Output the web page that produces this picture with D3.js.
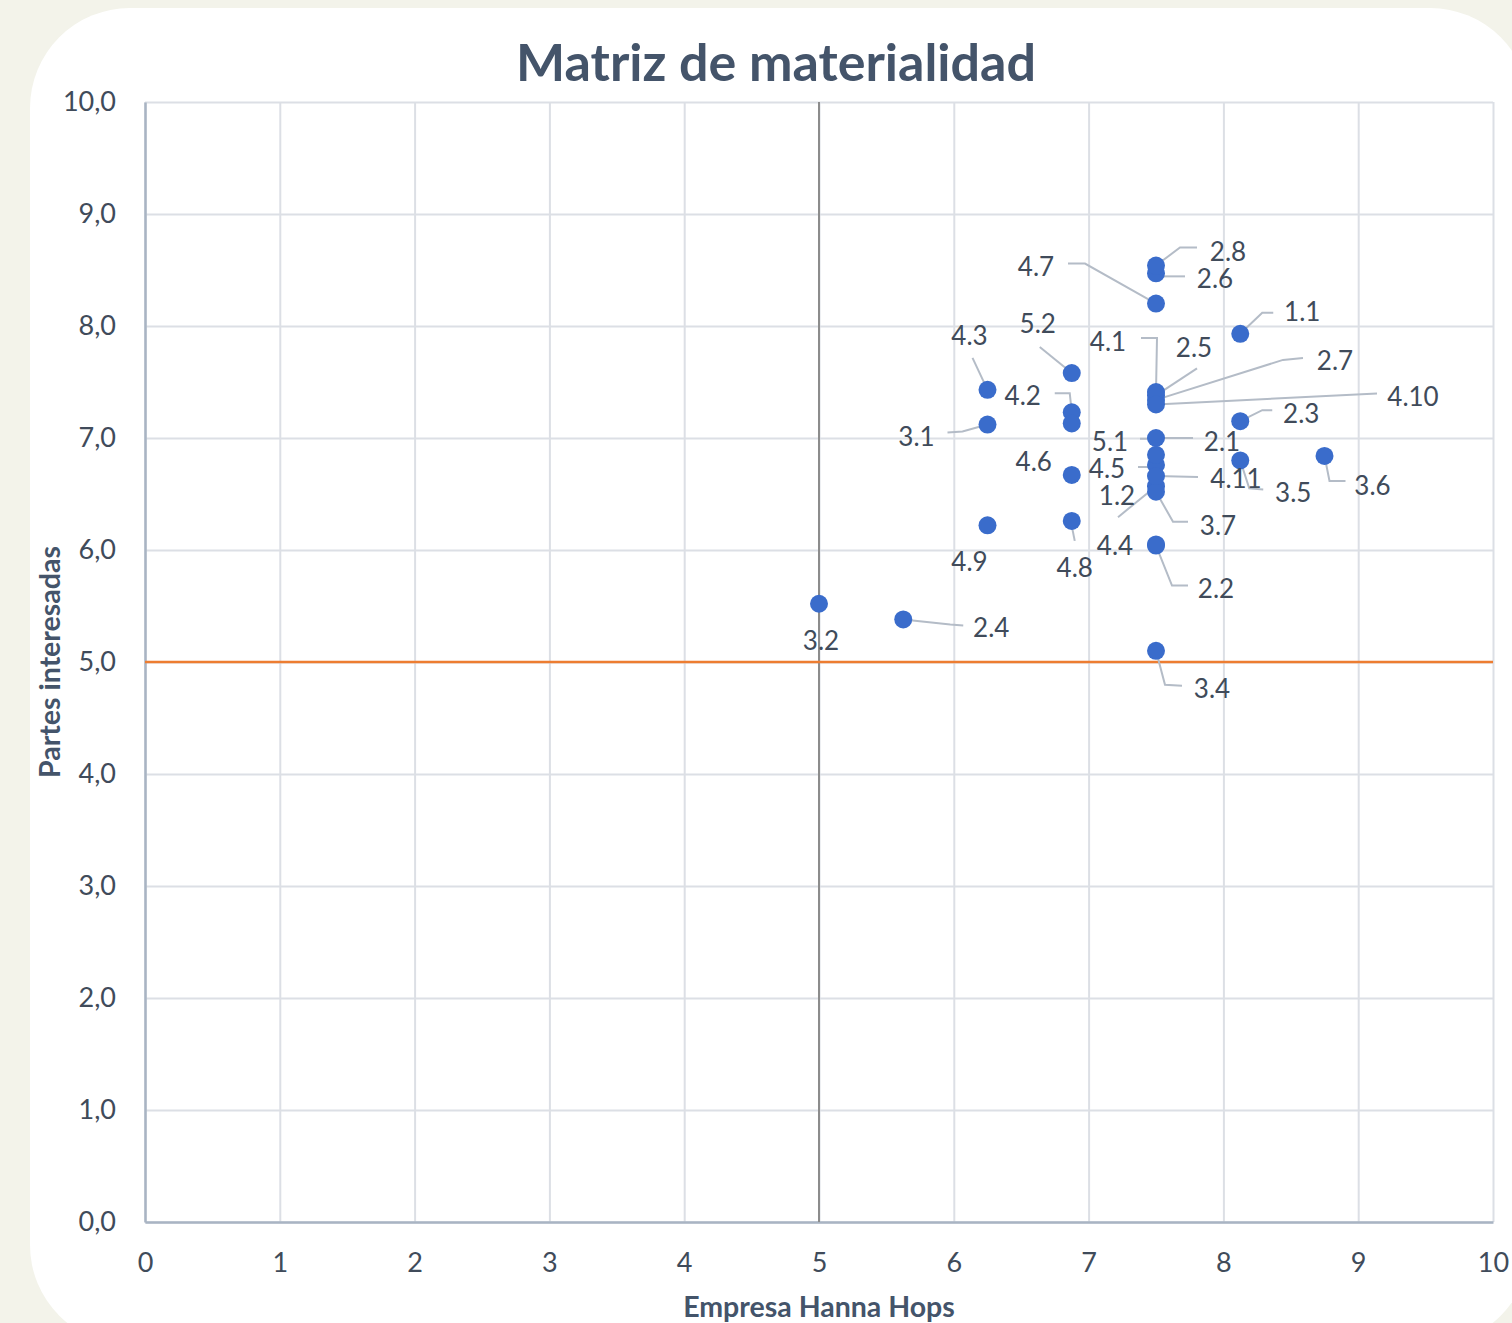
<!DOCTYPE html>
<html>
<head>
<meta charset="utf-8">
<script src="https://cdn.jsdelivr.net/npm/d3@7"></script>
<style>
  html, body { margin: 0; padding: 0; background: #f3f3ea; }
  svg { display: block; }
</style>
</head>
<body>
<svg id="chart" width="1512" height="1323"></svg>
<script>
// ---------- data ----------
const pointLabels = ["1.1","1.2","2.1","2.2","2.3","2.4","2.5","2.6","2.7","2.8",
  "3.1","3.2","3.4","3.5","3.6","3.7","4.1","4.2","4.3","4.4",
  "4.5","4.6","4.7","4.8","4.9","4.10","4.11","5.1","5.2",""];
const empresaValues = [8.125,7.5,7.5,7.5,8.125,5.625,7.5,7.5,7.5,7.5,
  6.25,5.0,7.5,8.125,8.75,7.5,7.5,6.875,6.25,7.5,
  7.5,6.875,7.5,6.875,6.25,7.5,7.5,7.5,6.875,6.875];
const partesValues = [7.93,6.57,7.00,6.04,7.15,5.38,7.38,8.47,7.34,8.54,
  7.12,5.52,5.10,6.80,6.84,6.52,7.41,7.23,7.43,6.05,
  6.76,6.67,8.20,6.26,6.22,7.30,6.66,6.85,7.58,7.13];
const xTicks = [0,1,2,3,4,5,6,7,8,9,10];
const yTicks = [0,1,2,3,4,5,6,7,8,9,10];
const thresholdX = 5;
const thresholdY = 5;
const chartTitle = "Matriz de materialidad";
const xTitle = "Empresa Hanna Hops";
const yTitle = "Partes interesadas";

// ---------- label layout (pixel offsets from point: label centre, leader polyline) ----------
const labelLayout = {
  "1.1": {dx:62, dy:-23, leader:[[0,0],[22,-21],[33,-21]]},
  "1.2": {dx:-39, dy:9, leader:[[0,0],[-38,31]]},
  "2.1": {dx:66, dy:3, leader:[[0,0],[37,0]]},
  "2.2": {dx:60, dy:42, leader:[[0,0],[16,40],[32,40]]},
  "2.3": {dx:61, dy:-8, leader:[[0,0],[22,-11],[32,-11]]},
  "2.4": {dx:88, dy:8, leader:[[0,0],[47,5],[60,6]]},
  "2.5": {dx:38, dy:-48, leader:[[0,0],[41,-27]]},
  "2.6": {dx:59, dy:5, leader:[[0,3],[29,3]]},
  "2.7": {dx:179, dy:-40, leader:[[0,0],[127,-40],[147,-42]]},
  "2.8": {dx:72, dy:-15, leader:[[0,0],[24,-18],[41,-18]]},
  "3.1": {dx:-71, dy:11, leader:[[0,0],[-25,7],[-40,8]]},
  "3.2": {dx:2, dy:36, leader:null},
  "3.4": {dx:56, dy:37, leader:[[0,0],[9,34],[26,35]]},
  "3.5": {dx:53, dy:32, leader:[[0,0],[9,28],[23,29]]},
  "3.6": {dx:48, dy:29, leader:[[0,0],[5,25],[21,25]]},
  "3.7": {dx:62, dy:33, leader:[[0,0],[17,30],[32,30]]},
  "4.1": {dx:-48, dy:-51, leader:[[0,0],[1,-54],[-15,-54]]},
  "4.2": {dx:-49, dy:-17, leader:[[0,0],[-2,-19],[-17,-19]]},
  "4.3": {dx:-18, dy:-55, leader:[[0,0],[-15,-32]]},
  "4.4": {dx:-41, dy:1, leader:null},
  "4.5": {dx:-49, dy:3, leader:[[0,0],[-6,2],[-18,2]]},
  "4.6": {dx:-38, dy:-14, leader:null},
  "4.7": {dx:-120, dy:-38, leader:[[0,0],[-71,-40],[-88,-40]]},
  "4.8": {dx:3, dy:46, leader:[[0,5],[3,20]]},
  "4.9": {dx:-18, dy:36, leader:null},
  "4.10": {dx:257, dy:-8, leader:[[0,0],[221,-11]]},
  "4.11": {dx:80, dy:2, leader:[[0,0],[42,1]]},
  "5.1": {dx:-46, dy:-14, leader:[[0,0],[0,-16],[-16,-16]]},
  "5.2": {dx:-34, dy:-50, leader:[[0,0],[-32,-26]]}
};

// ---------- drawing ----------
const svg = d3.select("#chart");
const FONT = "Lato, 'Open Sans', sans-serif";
const textColor = "#404b5a";
const titleColor = "#44546a";

// card
svg.append("rect").attr("x", 30).attr("y", 8).attr("width", 1500).attr("height", 1337)
  .attr("rx", 100).attr("ry", 100).attr("fill", "#ffffff");

const plot = {left:145, right:1493, top:102, bottom:1222};
const x = d3.scaleLinear().domain([0, 10]).range([plot.left, plot.right]);
const y = d3.scaleLinear().domain([0, 10]).range([plot.bottom, plot.top]);

// title
svg.append("text").attr("x", 776).attr("y", 81).attr("text-anchor", "middle")
  .attr("font-family", FONT).attr("font-weight", 700).attr("font-size", 52)
  .attr("fill", titleColor).text(chartTitle);

// gridlines
const gx = svg.append("g").attr("transform", `translate(0,${plot.bottom})`)
  .call(d3.axisBottom(x).tickValues(xTicks).tickSize(-(plot.bottom - plot.top)).tickFormat(""));
gx.select(".domain").remove();
gx.selectAll("line").attr("stroke", "#dcdfe5").attr("stroke-width", 2);
const gy = svg.append("g").attr("transform", `translate(${plot.left},0)`)
  .call(d3.axisLeft(y).tickValues(yTicks).tickSize(-(plot.right - plot.left)).tickFormat(""));
gy.select(".domain").remove();
gy.selectAll("line").attr("stroke", "#dcdfe5").attr("stroke-width", 2);

// axes
const commaFmt = d => d3.format(".1f")(d).replace(".", ",");
const ax = svg.append("g").attr("transform", `translate(0,${plot.bottom})`)
  .call(d3.axisBottom(x).tickValues(xTicks).tickSize(0).tickPadding(31).tickFormat(d3.format("d")));
ax.select(".domain").attr("stroke", "#a9b4c3").attr("stroke-width", 2.5);
ax.selectAll("text").attr("font-family", FONT).attr("font-size", 27).attr("fill", textColor);

const ay = svg.append("g").attr("transform", `translate(${plot.left},0)`)
  .call(d3.axisLeft(y).tickValues(yTicks).tickSize(0).tickPadding(29).tickFormat(commaFmt));
ay.select(".domain").attr("stroke", "#a9b4c3").attr("stroke-width", 2.5);
ay.selectAll("text").attr("font-family", FONT).attr("font-size", 27).attr("fill", textColor);

// threshold lines
svg.append("line").attr("x1", x(thresholdX)).attr("x2", x(thresholdX))
  .attr("y1", y(10)).attr("y2", y(0)).attr("stroke", "#8c8c8c").attr("stroke-width", 2);
svg.append("line").attr("x1", x(0)).attr("x2", x(10))
  .attr("y1", y(thresholdY)).attr("y2", y(thresholdY)).attr("stroke", "#ed7d31").attr("stroke-width", 2.5);

// axis titles
svg.append("text").attr("x", 819).attr("y", 1317).attr("text-anchor", "middle")
  .attr("font-family", FONT).attr("font-weight", 700).attr("font-size", 28.5)
  .attr("fill", titleColor).text(xTitle);
svg.append("text").attr("transform", "translate(60,662) rotate(-90)").attr("text-anchor", "middle")
  .attr("font-family", FONT).attr("font-weight", 700).attr("font-size", 28.5)
  .attr("fill", titleColor).text(yTitle);

// data
const pts = pointLabels.map((lab, i) => ({lab, px: x(empresaValues[i]), py: y(partesValues[i])}));

// leaders
const lineGen = d3.line();
svg.append("g").selectAll("path")
  .data(pts.filter(d => labelLayout[d.lab] && labelLayout[d.lab].leader))
  .join("path")
  .attr("d", d => lineGen(labelLayout[d.lab].leader.map(p => [d.px + p[0], d.py + p[1]])))
  .attr("fill", "none").attr("stroke", "#b4bcc7").attr("stroke-width", 2);

// dots
svg.append("g").selectAll("circle").data(pts).join("circle")
  .attr("cx", d => d.px).attr("cy", d => d.py).attr("r", 9)
  .attr("fill", "#3a6ccb");

// labels
svg.append("g").selectAll("text")
  .data(pts.filter(d => labelLayout[d.lab]))
  .join("text")
  .attr("x", d => d.px + labelLayout[d.lab].dx)
  .attr("y", d => d.py + labelLayout[d.lab].dy)
  .attr("text-anchor", "middle").attr("dominant-baseline", "central")
  .attr("font-family", FONT).attr("font-size", 26).attr("fill", textColor)
  .text(d => d.lab);
</script>
</body>
</html>
